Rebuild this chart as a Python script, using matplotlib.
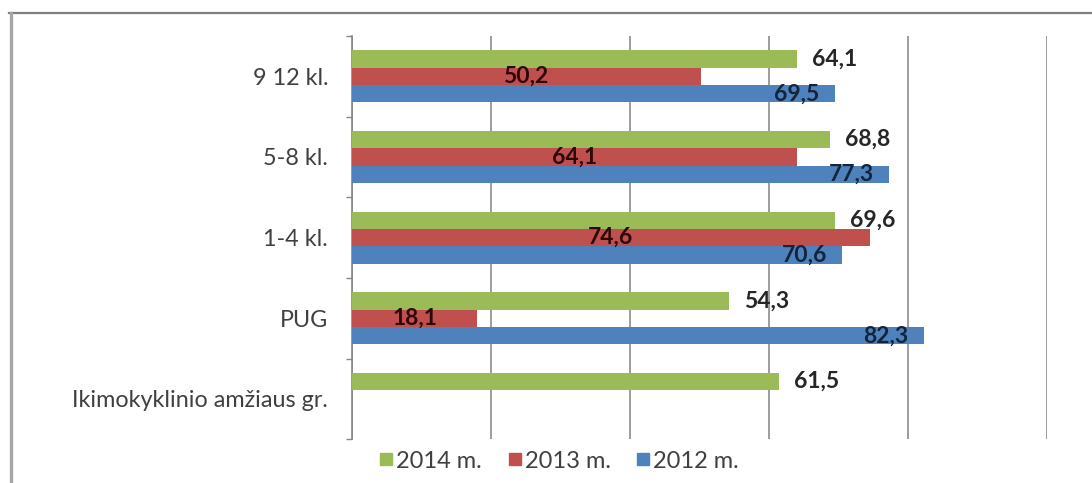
import matplotlib
matplotlib.use("Agg")
import matplotlib.pyplot as plt
from matplotlib.lines import Line2D
import numpy as np

plt.rcParams['font.family'] = ['Lato', 'DejaVu Sans']

categories = ["9 12 kl.", "5-8 kl.", "1-4 kl.", "PUG", "Ikimokyklinio amžiaus gr."]
series_names = ["2014 m.", "2013 m.", "2012 m."]
vals_2014 = [64.1, 68.8, 69.6, 54.3, 61.5]
vals_2013 = [50.2, 64.1, 74.6, 18.1, None]
vals_2012 = [69.5, 77.3, 70.6, 82.3, None]

colors = ["#9BBB59", "#C0504D", "#4F81BD"]
label_colors = ["#262626", "#2e0808", "#13243d"]

W, H = 1092, 483
fig = plt.figure(figsize=(W / 100, H / 100), dpi=100)
ax = fig.add_axes([351.7 / W, 1 - 439.3 / H, (1046.7 - 351.7) / W, (439.3 - 36) / H])

y = np.arange(len(categories))
bh = 0.216
offsets = [-bh, 0.0, bh]
all_vals = [vals_2014, vals_2013, vals_2012]
lfs = 16.5

for s, (vals, off, col, lcol) in enumerate(zip(all_vals, offsets, colors, label_colors)):
    for i, v in enumerate(vals):
        if v is None:
            continue
        ax.barh(y[i] + off, v, height=bh, color=col, zorder=3)
        txt = f"{v:.1f}".replace(".", ",")
        if s == 0:
            ax.annotate(txt, (v, y[i] + off), xytext=(10.8, 0), textcoords="offset points",
                        ha="left", va="center", fontsize=lfs, fontweight="bold", color=lcol, zorder=4)
        elif s == 1:
            ax.annotate(txt, (v / 2, y[i] + off), ha="center", va="center",
                        fontsize=lfs, fontweight="bold", color=lcol, zorder=4)
        else:
            ax.annotate(txt, (v, y[i] + off), xytext=(-11, 0), textcoords="offset points",
                        ha="right", va="center", fontsize=lfs, fontweight="bold", color=lcol, zorder=4)

ax.set_xlim(0, 100)
ax.set_ylim(len(categories) - 0.5, -0.5)
ax.set_xticks([0, 20, 40, 60, 80, 100])
ax.set_xticklabels([])
ax.tick_params(axis="x", length=0)
ax.xaxis.grid(True, color="#8c8c8c", linewidth=1.2, zorder=0)
ax.set_axisbelow(True)

ax.set_yticks(np.arange(-0.5, len(categories), 1.0))
ax.set_yticklabels([])
ax.set_yticks(y, minor=True)
ax.set_yticklabels(categories, minor=True, fontsize=16.8, color="#404040")
ax.tick_params(axis="y", which="major", length=4, direction="out", color="#868686", width=1)
ax.tick_params(axis="y", which="minor", length=0, pad=17)

for sp in ["top", "right", "bottom"]:
    ax.spines[sp].set_visible(False)
ax.spines["left"].set_color("#868686")
ax.spines["left"].set_linewidth(1.2)

handles = [Line2D([], [], marker="s", linestyle="none", markersize=8.5,
                  markerfacecolor=c, markeredgecolor=c) for c in colors]
fig.legend(handles, series_names, loc="center", bbox_to_anchor=(560 / W, 1 - 461 / H),
           ncol=3, frameon=False, fontsize=17, handlelength=0.45, handletextpad=0.2,
           columnspacing=1.15, labelcolor="#404040")

# outer chart border (top and left visible)
fig.add_artist(Line2D([9 / W, 1.0], [1 - 13 / H, 1 - 13 / H], color="#7f7f7f", linewidth=1.6,
                      transform=fig.transFigure))
fig.add_artist(Line2D([10.5 / W, 10.5 / W], [1 - 13 / H, 0.0], color="#a6a6a6", linewidth=2.4,
                      transform=fig.transFigure))

fig.savefig("out.png", dpi=100)
